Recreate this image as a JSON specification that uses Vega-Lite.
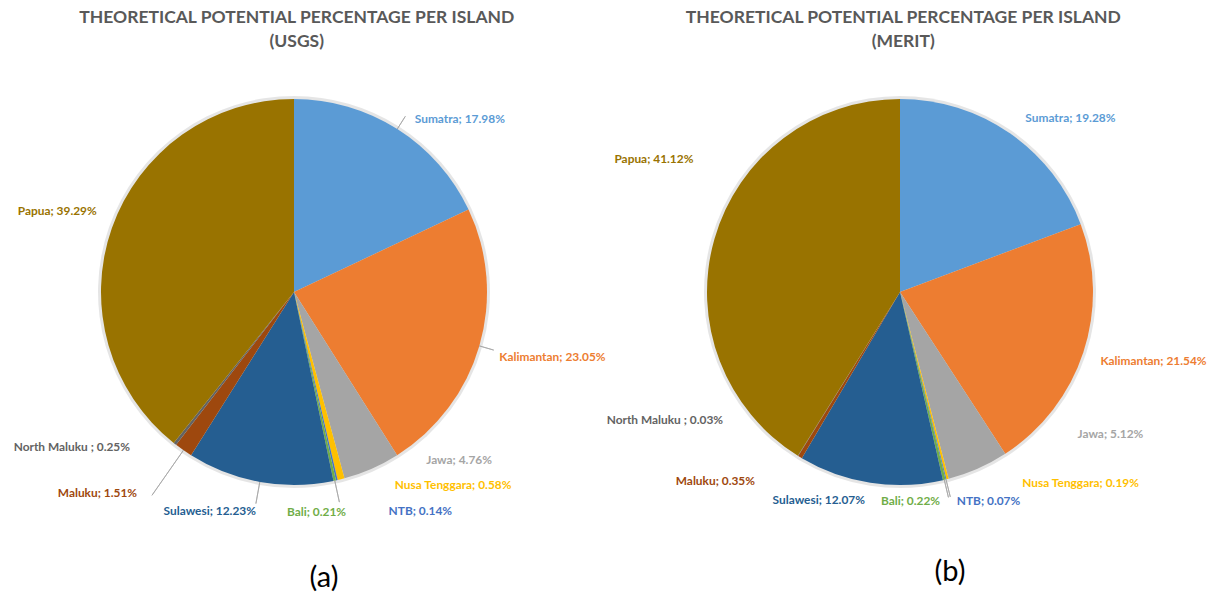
{
  "$schema": "https://vega.github.io/schema/vega-lite/v6.json",
  "background": "white",
  "padding": {"left": 0, "right": 0, "top": 9, "bottom": 0},
  "spacing": 0,
  "config": {
    "view": {"stroke": null},
    "font": "Lato",
    "text": {"font": "Lato", "fontSize": 11.9, "fontWeight": "bold", "baseline": "middle"},
    "title": {"anchor": "middle"}
  },
  "datasets": {
    "usgs": [
      {"island": "Sumatra", "pct": 17.98, "order": 1},
      {"island": "Kalimantan", "pct": 23.05, "order": 2},
      {"island": "Jawa", "pct": 4.76, "order": 3},
      {"island": "Nusa Tenggara", "pct": 0.58, "order": 4},
      {"island": "NTB", "pct": 0.14, "order": 5},
      {"island": "Bali", "pct": 0.21, "order": 6},
      {"island": "Sulawesi", "pct": 12.23, "order": 7},
      {"island": "Maluku", "pct": 1.51, "order": 8},
      {"island": "North Maluku ", "pct": 0.25, "order": 9},
      {"island": "Papua", "pct": 39.29, "order": 10}
    ],
    "merit": [
      {"island": "Sumatra", "pct": 19.28, "order": 1},
      {"island": "Kalimantan", "pct": 21.54, "order": 2},
      {"island": "Jawa", "pct": 5.12, "order": 3},
      {"island": "Nusa Tenggara", "pct": 0.19, "order": 4},
      {"island": "NTB", "pct": 0.07, "order": 5},
      {"island": "Bali", "pct": 0.22, "order": 6},
      {"island": "Sulawesi", "pct": 12.07, "order": 7},
      {"island": "Maluku", "pct": 0.35, "order": 8},
      {"island": "North Maluku ", "pct": 0.03, "order": 9},
      {"island": "Papua", "pct": 41.12, "order": 10}
    ]
  },
  "hconcat": [
    {
      "title": {"text": ["THEORETICAL POTENTIAL PERCENTAGE PER ISLAND", "(USGS)"], "fontSize": 17.5, "fontWeight": "bold", "color": "#595959", "lineHeight": 24, "offset": 21.5, "dx": -6},
      "vconcat": [
        {
          "width": 588,
          "height": 440,
          "title": {"text": "(a)", "orient": "bottom", "frame": "group", "fontSize": 29, "fontWeight": "normal", "color": "#000000", "offset": 46, "dx": 30},
          "data": {"name": "usgs"},
          "transform": [
            {"stack": "pct", "groupby": [], "sort": [{"field": "order", "order": "ascending"}], "as": ["t0", "t1"]},
            {"fold": ["t0", "t1"], "as": ["edge", "angle"]},
            {"joinaggregate": [{"op": "mean", "field": "angle", "as": "mid"}], "groupby": ["island"]},
            {"filter": "datum.edge === 't0'"},
            {"calculate": "datum.island + '; ' + format(datum.pct, '.2f') + '%'", "as": "label"}
          ],
          "encoding": {
            "color": {
              "field": "island",
              "type": "nominal",
              "legend": null,
              "scale": {
                "domain": ["Sumatra", "Kalimantan", "Jawa", "Nusa Tenggara", "NTB", "Bali", "Sulawesi", "Maluku", "North Maluku ", "Papua"],
                "range": ["#5B9BD5", "#ED7D31", "#A5A5A5", "#FFC000", "#4472C4", "#70AD47", "#255E91", "#9E480E", "#636363", "#997300"]
              }
            }
          },
          "layer": [
            {"mark": {"type": "arc", "outerRadius": 196, "opacity": 0.1},
             "encoding": {"theta": {"field": "t0", "type": "quantitative", "stack": null, "scale": {"domain": [0, 100]}}, "theta2": {"field": "t1"}, "color": {"value": "#000000"}}},
            {"mark": {"type": "arc", "outerRadius": 193},
             "encoding": {"theta": {"field": "t0", "type": "quantitative", "stack": null, "scale": {"domain": [0, 100]}}, "theta2": {"field": "t1"}}},
            {"transform": [{"filter": {"field": "island", "oneOf": ["Sumatra", "Kalimantan"]}}],
             "mark": {"type": "arc", "filled": false, "strokeWidth": 0.8, "innerRadius": 193, "outerRadius": 208},
             "encoding": {"theta": {"field": "mid", "type": "quantitative", "stack": null, "scale": {"domain": [0, 100]}}, "theta2": {"field": "mid"}, "color": {"value": "#A6A6A6"}}},
            {"transform": [{"filter": {"field": "island", "oneOf": ["Bali", "Sulawesi"]}}],
             "mark": {"type": "arc", "filled": false, "strokeWidth": 0.8, "innerRadius": 193, "outerRadius": 215},
             "encoding": {"theta": {"field": "mid", "type": "quantitative", "stack": null, "scale": {"domain": [0, 100]}}, "theta2": {"field": "mid"}, "color": {"value": "#A6A6A6"}}},
            {"transform": [{"filter": {"field": "island", "oneOf": ["Maluku"]}}],
             "mark": {"type": "arc", "filled": false, "strokeWidth": 0.8, "innerRadius": 193, "outerRadius": 248},
             "encoding": {"theta": {"field": "mid", "type": "quantitative", "stack": null, "scale": {"domain": [0, 100]}}, "theta2": {"field": "mid"}, "color": {"value": "#A6A6A6"}}},
            {"transform": [{"filter": "datum.island === 'Sumatra'"}],
             "mark": {"type": "text", "radius": 192, "align": "left", "dx": 18, "dy": -11},
             "encoding": {"theta": {"field": "mid", "type": "quantitative", "stack": null, "scale": {"domain": [0, 100]}}, "text": {"field": "label"}}},
            {"transform": [{"filter": "datum.island === 'Kalimantan'"}],
             "mark": {"type": "text", "radius": 192, "align": "left", "dx": 21, "dy": 11},
             "encoding": {"theta": {"field": "mid", "type": "quantitative", "stack": null, "scale": {"domain": [0, 100]}}, "text": {"field": "label"}}},
            {"transform": [{"filter": "datum.island === 'Jawa'"}],
             "mark": {"type": "text", "radius": 192, "align": "left", "dx": 55, "dy": -8},
             "encoding": {"theta": {"field": "mid", "type": "quantitative", "stack": null, "scale": {"domain": [0, 100]}}, "text": {"field": "label"}}},
            {"transform": [{"filter": "datum.island === 'Nusa Tenggara'"}],
             "mark": {"type": "text", "radius": 192, "align": "left", "dx": 54, "dy": 7},
             "encoding": {"theta": {"field": "mid", "type": "quantitative", "stack": null, "scale": {"domain": [0, 100]}}, "text": {"field": "label"}}},
            {"transform": [{"filter": "datum.island === 'NTB'"}],
             "mark": {"type": "text", "radius": 192, "align": "left", "dx": 52, "dy": 32},
             "encoding": {"theta": {"field": "mid", "type": "quantitative", "stack": null, "scale": {"domain": [0, 100]}}, "text": {"field": "label"}}},
            {"transform": [{"filter": "datum.island === 'Bali'"}],
             "mark": {"type": "text", "radius": 192, "align": "center", "dx": -18, "dy": 32},
             "encoding": {"theta": {"field": "mid", "type": "quantitative", "stack": null, "scale": {"domain": [0, 100]}}, "text": {"field": "label"}}},
            {"transform": [{"filter": "datum.island === 'Sulawesi'"}],
             "mark": {"type": "text", "radius": 192, "align": "right", "dx": -4, "dy": 30.5},
             "encoding": {"theta": {"field": "mid", "type": "quantitative", "stack": null, "scale": {"domain": [0, 100]}}, "text": {"field": "label"}}},
            {"transform": [{"filter": "datum.island === 'Maluku'"}],
             "mark": {"type": "text", "radius": 192, "align": "right", "dx": -47, "dy": 44},
             "encoding": {"theta": {"field": "mid", "type": "quantitative", "stack": null, "scale": {"domain": [0, 100]}}, "text": {"field": "label"}}},
            {"transform": [{"filter": "datum.island === 'North Maluku '"}],
             "mark": {"type": "text", "radius": 192, "align": "right", "dx": -45.5, "dy": 3.5},
             "encoding": {"theta": {"field": "mid", "type": "quantitative", "stack": null, "scale": {"domain": [0, 100]}}, "text": {"field": "label"}}},
            {"transform": [{"filter": "datum.island === 'Papua'"}],
             "mark": {"type": "text", "radius": 192, "align": "right", "dx": -16, "dy": -18},
             "encoding": {"theta": {"field": "mid", "type": "quantitative", "stack": null, "scale": {"domain": [0, 100]}}, "text": {"field": "label"}}}
          ]
        }
      ]
    },
    {
      "title": {"text": ["THEORETICAL POTENTIAL PERCENTAGE PER ISLAND", "(MERIT)"], "fontSize": 17.5, "fontWeight": "bold", "color": "#595959", "lineHeight": 24, "offset": 21.5, "dx": -3},
      "vconcat": [
        {
          "width": 588,
          "height": 440,
          "title": {"text": "(b)", "orient": "bottom", "frame": "group", "fontSize": 29, "fontWeight": "normal", "color": "#000000", "offset": 46, "dx": 50},
          "data": {"name": "merit"},
          "transform": [
            {"stack": "pct", "groupby": [], "sort": [{"field": "order", "order": "ascending"}], "as": ["t0", "t1"]},
            {"fold": ["t0", "t1"], "as": ["edge", "angle"]},
            {"joinaggregate": [{"op": "mean", "field": "angle", "as": "mid"}], "groupby": ["island"]},
            {"filter": "datum.edge === 't0'"},
            {"calculate": "datum.island + '; ' + format(datum.pct, '.2f') + '%'", "as": "label"}
          ],
          "encoding": {
            "color": {
              "field": "island",
              "type": "nominal",
              "legend": null,
              "scale": {
                "domain": ["Sumatra", "Kalimantan", "Jawa", "Nusa Tenggara", "NTB", "Bali", "Sulawesi", "Maluku", "North Maluku ", "Papua"],
                "range": ["#5B9BD5", "#ED7D31", "#A5A5A5", "#FFC000", "#4472C4", "#70AD47", "#255E91", "#9E480E", "#636363", "#997300"]
              }
            }
          },
          "layer": [
            {"mark": {"type": "arc", "outerRadius": 196, "opacity": 0.1},
             "encoding": {"theta": {"field": "t0", "type": "quantitative", "stack": null, "scale": {"domain": [0, 99.99]}}, "theta2": {"field": "t1"}, "color": {"value": "#000000"}}},
            {"mark": {"type": "arc", "outerRadius": 193},
             "encoding": {"theta": {"field": "t0", "type": "quantitative", "stack": null, "scale": {"domain": [0, 99.99]}}, "theta2": {"field": "t1"}}},
            {"transform": [{"filter": {"field": "island", "oneOf": ["NTB", "Bali"]}}],
             "mark": {"type": "arc", "filled": false, "strokeWidth": 0.8, "innerRadius": 193, "outerRadius": 211},
             "encoding": {"theta": {"field": "mid", "type": "quantitative", "stack": null, "scale": {"domain": [0, 99.99]}}, "theta2": {"field": "mid"}, "color": {"value": "#A6A6A6"}}},
            {"transform": [{"filter": "datum.island === 'Sumatra'"}],
             "mark": {"type": "text", "radius": 192, "align": "left", "dx": 16, "dy": -16},
             "encoding": {"theta": {"field": "mid", "type": "quantitative", "stack": null, "scale": {"domain": [0, 99.99]}}, "text": {"field": "label"}}},
            {"transform": [{"filter": "datum.island === 'Kalimantan'"}],
             "mark": {"type": "text", "radius": 192, "align": "left", "dx": 18, "dy": 9.5},
             "encoding": {"theta": {"field": "mid", "type": "quantitative", "stack": null, "scale": {"domain": [0, 99.99]}}, "text": {"field": "label"}}},
            {"transform": [{"filter": "datum.island === 'Jawa'"}],
             "mark": {"type": "text", "radius": 192, "align": "left", "dx": 100, "dy": -34},
             "encoding": {"theta": {"field": "mid", "type": "quantitative", "stack": null, "scale": {"domain": [0, 99.99]}}, "text": {"field": "label"}}},
            {"transform": [{"filter": "datum.island === 'Nusa Tenggara'"}],
             "mark": {"type": "text", "radius": 192, "align": "left", "dx": 75, "dy": 4.5},
             "encoding": {"theta": {"field": "mid", "type": "quantitative", "stack": null, "scale": {"domain": [0, 99.99]}}, "text": {"field": "label"}}},
            {"transform": [{"filter": "datum.island === 'NTB'"}],
             "mark": {"type": "text", "radius": 192, "align": "left", "dx": 11, "dy": 23},
             "encoding": {"theta": {"field": "mid", "type": "quantitative", "stack": null, "scale": {"domain": [0, 99.99]}}, "text": {"field": "label"}}},
            {"transform": [{"filter": "datum.island === 'Bali'"}],
             "mark": {"type": "text", "radius": 192, "align": "right", "dx": -4, "dy": 22.5},
             "encoding": {"theta": {"field": "mid", "type": "quantitative", "stack": null, "scale": {"domain": [0, 99.99]}}, "text": {"field": "label"}}},
            {"transform": [{"filter": "datum.island === 'Sulawesi'"}],
             "mark": {"type": "text", "radius": 192, "align": "right", "dx": -5.5, "dy": 18},
             "encoding": {"theta": {"field": "mid", "type": "quantitative", "stack": null, "scale": {"domain": [0, 99.99]}}, "text": {"field": "label"}}},
            {"transform": [{"filter": "datum.island === 'Maluku'"}],
             "mark": {"type": "text", "radius": 192, "align": "right", "dx": -45.5, "dy": 25},
             "encoding": {"theta": {"field": "mid", "type": "quantitative", "stack": null, "scale": {"domain": [0, 99.99]}}, "text": {"field": "label"}}},
            {"transform": [{"filter": "datum.island === 'North Maluku '"}],
             "mark": {"type": "text", "radius": 192, "align": "right", "dx": -75.5, "dy": -35.5},
             "encoding": {"theta": {"field": "mid", "type": "quantitative", "stack": null, "scale": {"domain": [0, 99.99]}}, "text": {"field": "label"}}},
            {"transform": [{"filter": "datum.island === 'Papua'"}],
             "mark": {"type": "text", "radius": 192, "align": "right", "dx": -22, "dy": -80.5},
             "encoding": {"theta": {"field": "mid", "type": "quantitative", "stack": null, "scale": {"domain": [0, 99.99]}}, "text": {"field": "label"}}}
          ]
        }
      ]
    }
  ]
}
